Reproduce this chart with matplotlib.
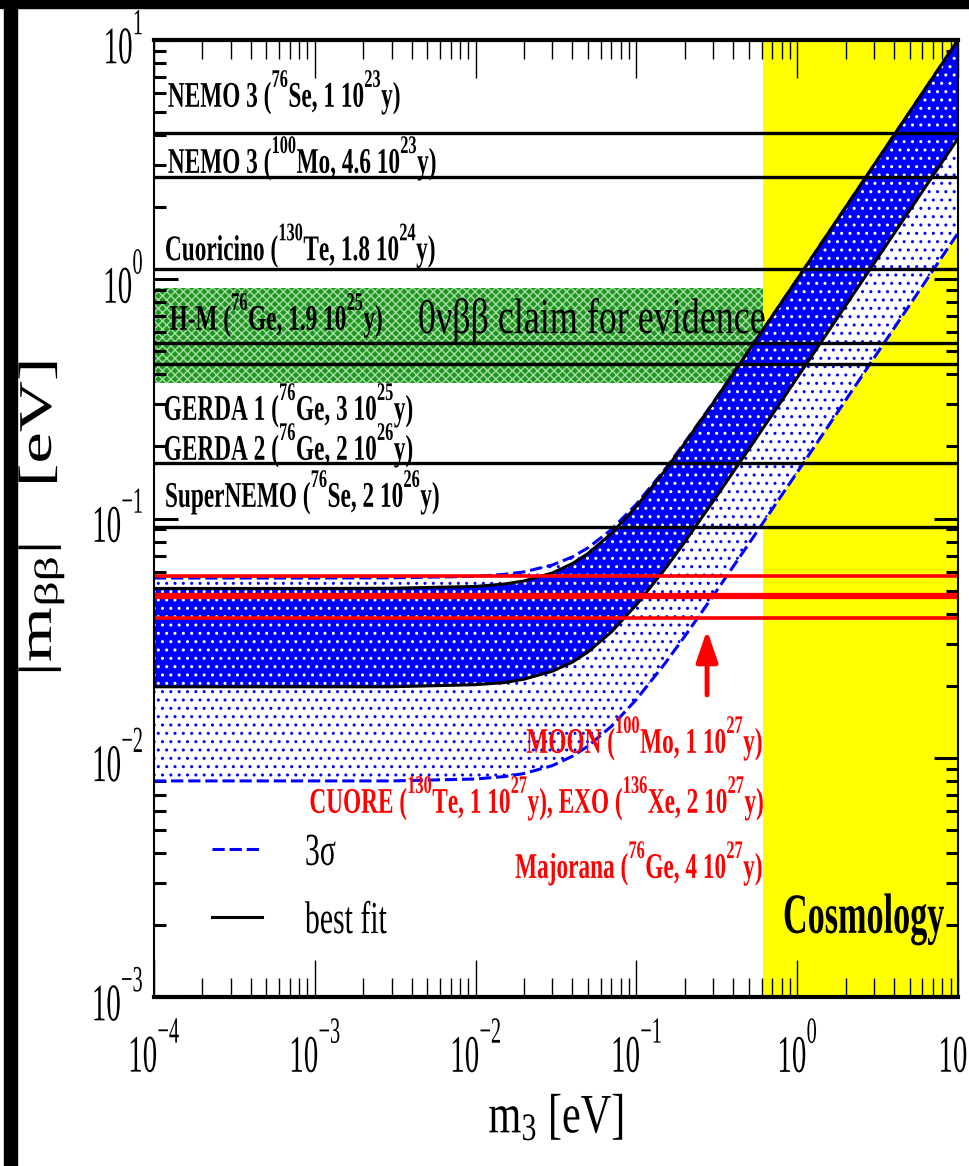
import matplotlib
matplotlib.use('Agg')
import matplotlib.pyplot as plt
from matplotlib.patheffects import AbstractPathEffect
from matplotlib.transforms import Affine2D, Bbox
from matplotlib.ticker import FixedLocator, NullFormatter
from matplotlib.patches import Rectangle

plt.rcParams['mathtext.fontset'] = 'custom'
plt.rcParams['mathtext.rm'] = 'Liberation Serif'
plt.rcParams['mathtext.it'] = 'Liberation Serif:italic'
plt.rcParams['mathtext.bf'] = 'Liberation Serif:bold'
plt.rcParams['font.family'] = ['Liberation Serif', 'DejaVu Serif']
plt.rcParams['hatch.linewidth'] = 1.0

# raise superscripts a bit (the reference sets them high)
try:
    import matplotlib._mathtext as _mt
    _mt.FontConstantsBase.sup1 = 1.2
except Exception:
    pass

# ---------------- data ----------------
m3 = [1e-4, 3e-4, 1e-3, 3e-3, 0.01, 0.015, 0.02, 0.03, 0.04, 0.05, 0.07,
      0.1, 0.15, 0.2, 0.3, 0.5, 0.7, 1.0, 2.0, 5.0, 10.0]
best_upper = [0.0510, 0.0510, 0.0510, 0.0511, 0.0520, 0.0532, 0.0548, 0.0592,
              0.0648, 0.0714, 0.0866, 0.1123, 0.158, 0.206, 0.304, 0.503,
              0.702, 1.00, 2.00, 5.00, 10.0]
best_lower = [0.0198, 0.0198, 0.0198, 0.0198, 0.0202, 0.0206, 0.0213, 0.0230,
              0.0251, 0.0277, 0.0336, 0.0436, 0.0613, 0.0799, 0.118, 0.195,
              0.272, 0.388, 0.776, 1.94, 3.88]
sig3_upper = [0.0564, 0.0564, 0.0564, 0.0565, 0.0573, 0.0584, 0.0598, 0.0639,
              0.0691, 0.0754, 0.0899, 0.1148, 0.160, 0.208, 0.305, 0.503,
              0.702, 1.00, 2.00, 5.00, 10.0]
sig3_lower = [0.0080, 0.0080, 0.0080, 0.0080, 0.00815, 0.00834, 0.00859,
              0.00927, 0.01015, 0.01118, 0.01354, 0.01753, 0.0247, 0.0322,
              0.0475, 0.0784, 0.1095, 0.156, 0.312, 0.78, 1.56]

cosmology_bound = [0.613, 10.0]
hm_claim = [0.368, 0.919]
black_limits = [4.08, 2.68, 1.10, 0.543, 0.443, 0.171, 0.092]
red_limits = [0.0575, 0.0474, 0.0384]

black_labels = [r'NEMO 3 ($^{\mathbf{76}}$Se, 1 10$^{\mathbf{23}}$y)',
                r'NEMO 3 ($^{\mathbf{100}}$Mo, 4.6 10$^{\mathbf{23}}$y)',
                r'Cuoricino ($^{\mathbf{130}}$Te, 1.8 10$^{\mathbf{24}}$y)',
                r'H-M ($^{\mathbf{76}}$Ge, 1.9 10$^{\mathbf{25}}$y)',
                r'GERDA 1 ($^{\mathbf{76}}$Ge, 3 10$^{\mathbf{25}}$y)',
                r'GERDA 2 ($^{\mathbf{76}}$Ge, 2 10$^{\mathbf{26}}$y)',
                r'SuperNEMO ($^{\mathbf{76}}$Se, 2 10$^{\mathbf{26}}$y)']
red_labels = [r'MOON ($^{\mathbf{100}}$Mo, 1 10$^{\mathbf{27}}$y)',
              r'CUORE ($^{\mathbf{130}}$Te, 1 10$^{\mathbf{27}}$y), EXO ($^{\mathbf{136}}$Xe, 2 10$^{\mathbf{27}}$y)',
              r'Majorana ($^{\mathbf{76}}$Ge, 4 10$^{\mathbf{27}}$y)']
claim_label = '0νββ claim for evidence'
xticks = [1e-4, 1e-3, 1e-2, 1e-1, 1e0, 1e1]
xtick_labels = [r'$10^{-4}$', r'$10^{-3}$', r'$10^{-2}$', r'$10^{-1}$', r'$10^{0}$', r'$10^{1}$']
yticks = [1e-3, 1e-2, 1e-1, 1e0, 1e1]
ytick_labels = [r'$10^{-3}$', r'$10^{-2}$', r'$10^{-1}$', r'$10^{0}$', r'$10^{1}$']


# ---------------- horizontal squash of text (keeps real text) ----------------
class Squash(AbstractPathEffect):
    def __init__(self, sx, artist):
        super().__init__()
        self.sx = sx
        self.artist = artist

    def draw_path(self, renderer, gc, tpath, affine, rgbFace=None):
        x0 = self.artist.get_transform().transform(self.artist.get_position())[0]
        t = affine + Affine2D().translate(-x0, 0).scale(self.sx, 1.0).translate(x0, 0)
        renderer.draw_path(gc, tpath, t, rgbFace)


def squash(txt, sx):
    txt.set_path_effects([Squash(sx, txt)])
    orig = txt.get_window_extent

    def gwe(renderer=None, dpi=None):
        bb = orig(renderer=renderer, dpi=dpi)
        x0 = txt.get_transform().transform(txt.get_position())[0]
        return Bbox([[x0 + (bb.x0 - x0) * sx, bb.y0],
                     [x0 + (bb.x1 - x0) * sx, bb.y1]])
    txt.get_window_extent = gwe
    return txt


W, H = 969, 1166
fig = plt.figure(figsize=(W / 100, H / 100), dpi=100)
ax = fig.add_axes([154 / W, 1 - 997 / H, 804 / W, 957 / H])
ax.set_xscale('log')
ax.set_yscale('log')
ax.set_xlim(1e-4, 10)
ax.set_ylim(1e-3, 10)

# frame remnants of the original screenshot
fig.add_artist(Rectangle((0, 1 - 8 / H), 1, 8 / H, transform=fig.transFigure,
                         color='black', zorder=0))
fig.add_artist(Rectangle((4 / W, 0), 13 / W, 1, transform=fig.transFigure,
                         color='black', zorder=0))

# cosmology region
ax.axvspan(cosmology_bound[0], cosmology_bound[1], color='#ffff00', lw=0, zorder=0.5)
# H-M claim band (stops at cosmology region)
ax.fill_between([1e-4, cosmology_bound[0]], hm_claim[0], hm_claim[1],
                facecolor='#1f961f', edgecolor='#a8dca8', hatch='xxxx',
                lw=0, zorder=1)

# 3 sigma band (white with blue dots)
ax.fill_between(m3, sig3_lower, sig3_upper, facecolor='white', edgecolor='#0000ff',
                hatch='..', lw=0, zorder=2)
# best fit band (blue with white dots)
ax.fill_between(m3, best_lower, best_upper, facecolor='#0000ff', edgecolor='white',
                hatch='..', lw=0, zorder=3)

dash_line, = ax.plot(m3, sig3_upper, color='#0000ff', lw=2.2, ls=(0, (4, 1.6)), zorder=4)
ax.plot(m3, sig3_lower, color='#0000ff', lw=2.2, ls=(0, (4, 1.6)), zorder=4)
best_line, = ax.plot(m3, best_upper, color='black', lw=2.2, zorder=4.5)
ax.plot(m3, best_lower, color='black', lw=2.2, zorder=4.5)

for v in black_limits:
    ax.axhline(v, color='black', lw=2.4, zorder=5)
for v, lw in zip(red_limits, [2.6, 4.5, 2.6]):
    ax.axhline(v, color='#ff0000', lw=lw, zorder=6)

# arrow
ax.annotate('', xy=(0.275, 0.0342), xytext=(0.275, 0.0183),
            arrowprops=dict(arrowstyle='-|>,head_length=1.9,head_width=0.65',
                            mutation_scale=10, color='#ff0000', lw=3.5,
                            shrinkA=0, shrinkB=0), zorder=7)

# labels
black_pos = [(1.22e-4, 5.25), (1.22e-4, 2.78), (1.17e-4, 1.20), (1.25e-4, 0.614),
             (1.15e-4, 0.258), (1.15e-4, 0.1756), (1.17e-4, 0.1117)]
for s, (x, y) in zip(black_labels, black_pos):
    squash(ax.text(x, y, s, fontsize=26, fontweight='bold', color='black',
                   ha='left', va='baseline', zorder=8), 0.645)

squash(ax.text(4.38e-3, 0.596, claim_label, fontsize=36, color='black',
               ha='left', va='baseline', zorder=8), 0.72)

red_pos = [(0.613, 0.01047), (0.625, 0.00588), (0.613, 0.00314)]
for s, (x, y) in zip(red_labels, red_pos):
    squash(ax.text(x, y, s, fontsize=26, fontweight='bold', color='#ff0000',
                   ha='right', va='baseline', zorder=8), 0.645)

squash(ax.text(0.816, 0.001854, 'Cosmology', fontsize=41, fontweight='bold',
               color='black', ha='left', va='baseline', zorder=8), 0.6)

# legend
leg = ax.legend([dash_line, best_line], ['3σ', 'best fit'], loc='upper left',
                bbox_to_anchor=(0.072, 0.172), frameon=False, fontsize=33,
                handlelength=1.09, handletextpad=0.94, labelspacing=0.56,
                borderpad=0, borderaxespad=0)
for t in leg.get_texts():
    squash(t, 0.65)

# ticks
ax.xaxis.set_major_locator(FixedLocator(xticks))
ax.xaxis.set_minor_locator(FixedLocator([k * 10.0 ** e for e in range(-4, 1) for k in range(2, 10)]))
ax.yaxis.set_major_locator(FixedLocator(yticks))
ax.yaxis.set_minor_locator(FixedLocator([k * 10.0 ** e for e in range(-3, 1) for k in range(2, 10)]))
ax.xaxis.set_minor_formatter(NullFormatter())
ax.yaxis.set_minor_formatter(NullFormatter())
xl = ax.set_xticklabels(xtick_labels)
yl = ax.set_yticklabels(ytick_labels)
ax.tick_params(axis='both', which='both', direction='in', top=True, right=True,
               colors='black', labelsize=38)
ax.tick_params(axis='x', which='major', length=27, width=1.0, pad=20)
ax.tick_params(axis='x', which='minor', length=14, width=1.0)
ax.tick_params(axis='y', which='major', length=17, width=2.2, pad=8)
ax.tick_params(axis='y', which='minor', length=8.6, width=2.2)
for t in list(xl) + list(yl):
    squash(t, 0.55)

for side in ['left', 'right']:
    ax.spines[side].set_linewidth(1.5)
for side in ['top', 'bottom']:
    ax.spines[side].set_linewidth(3.0)
for sp in ax.spines.values():
    sp.set_zorder(9)

xlab = ax.set_xlabel(r'$\mathrm{m}_{3}$ [eV]', fontsize=40)
ax.xaxis.set_label_coords(0.5, -0.100)
squash(xlab, 0.76)
ylab = ax.set_ylabel(r'$|\mathrm{m}_{\mathrm{\beta\beta}}|$   [eV]', fontsize=51)
ax.yaxis.set_label_coords(-0.1405, 0.5)
ylab.set_va('center')
squash(ylab, 0.66)

fig.savefig('out.png', dpi=100)
